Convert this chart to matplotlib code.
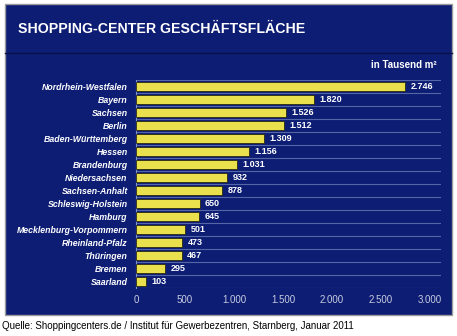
import matplotlib
matplotlib.use("Agg")
import matplotlib.pyplot as plt
from matplotlib.patches import Rectangle
from matplotlib.lines import Line2D

plt.rcParams["font.family"] = ["Liberation Sans", "DejaVu Sans"]

states = [
    "Nordrhein-Westfalen", "Bayern", "Sachsen", "Berlin", "Baden-Württemberg",
    "Hessen", "Brandenburg", "Niedersachsen", "Sachsen-Anhalt", "Schleswig-Holstein",
    "Hamburg", "Mecklenburg-Vorpommern", "Rheinland-Pfalz", "Thüringen", "Bremen", "Saarland",
]
values = [2746, 1820, 1526, 1512, 1309, 1156, 1031, 932, 878, 650, 645, 501, 473, 467, 295, 103]
ticks = [0, 500, 1000, 1500, 2000, 2500, 3000]

W, H = 457, 336
NAVY = "#0D1D74"
YELLOW = "#EADF4C"


def fmt(v):
    return f"{v:,}".replace(",", ".")


fig = plt.figure(figsize=(W / 100, H / 100), dpi=100, facecolor="white")

# navy panel and title band
fig.patches.append(Rectangle((5 / W, 1 - 315 / H), 447 / W, 311 / H, transform=fig.transFigure,
                             facecolor=NAVY, edgecolor="#9A9A9A", linewidth=1, zorder=-5))
fig.add_artist(Line2D([5 / W, 452 / W], [1 - 53 / H] * 2, color="#06104A", linewidth=1))
fig.text(18 / W, 1 - 29 / H, "SHOPPING-CENTER GESCHÄFTSFLÄCHE", color="white",
         fontsize=10.2, fontweight="bold", va="center", ha="left")
fig.text(437 / W, 1 - 65 / H, "in Tausend m²", color="white", fontsize=7,
         fontweight="bold", va="center", ha="right")

ax = fig.add_axes([136 / W, 1 - 288.2 / H, 305 / W, 208 / H])
ax.set_zorder(5)
ax.set_facecolor("none")
n = len(states)
ypos = list(range(n))
ax.barh(ypos, values, height=0.68, color=YELLOW, edgecolor="#2A2A10", linewidth=0.6, zorder=3)
for y, v in zip(ypos, values):
    ax.text(v + 55, y, fmt(v), color="white", fontsize=6.5, fontweight="bold",
            va="center", ha="left")
for b in range(n + 1):
    ax.axhline(b - 0.5, color="#5566A8", linewidth=0.8, zorder=1)

ax.set_ylim(n - 0.5, -0.5)
ax.set_xlim(0, 3112)
ax.set_yticks(ypos)
ax.set_yticklabels(states, color="white", fontsize=6.3, fontweight="bold", style="italic")
ax.set_xticks(ticks)
ax.set_xticklabels([fmt(t) for t in ticks], color="#C8CCE0", fontsize=7)
ax.tick_params(length=0)
ax.tick_params(axis="y", pad=6)
ax.tick_params(axis="x", pad=5)
for s in ["top", "right", "bottom"]:
    ax.spines[s].set_visible(False)
ax.spines["left"].set_color("#8090C8")
ax.spines["left"].set_linewidth(0.8)

fig.text(2 / W, 1 - 326 / H, "Quelle: Shoppingcenters.de / Institut für Gewerbezentren, Starnberg, Januar 2011",
         color="black", fontsize=7, va="center", ha="left")

fig.savefig("out.png", dpi=100, facecolor="white")
